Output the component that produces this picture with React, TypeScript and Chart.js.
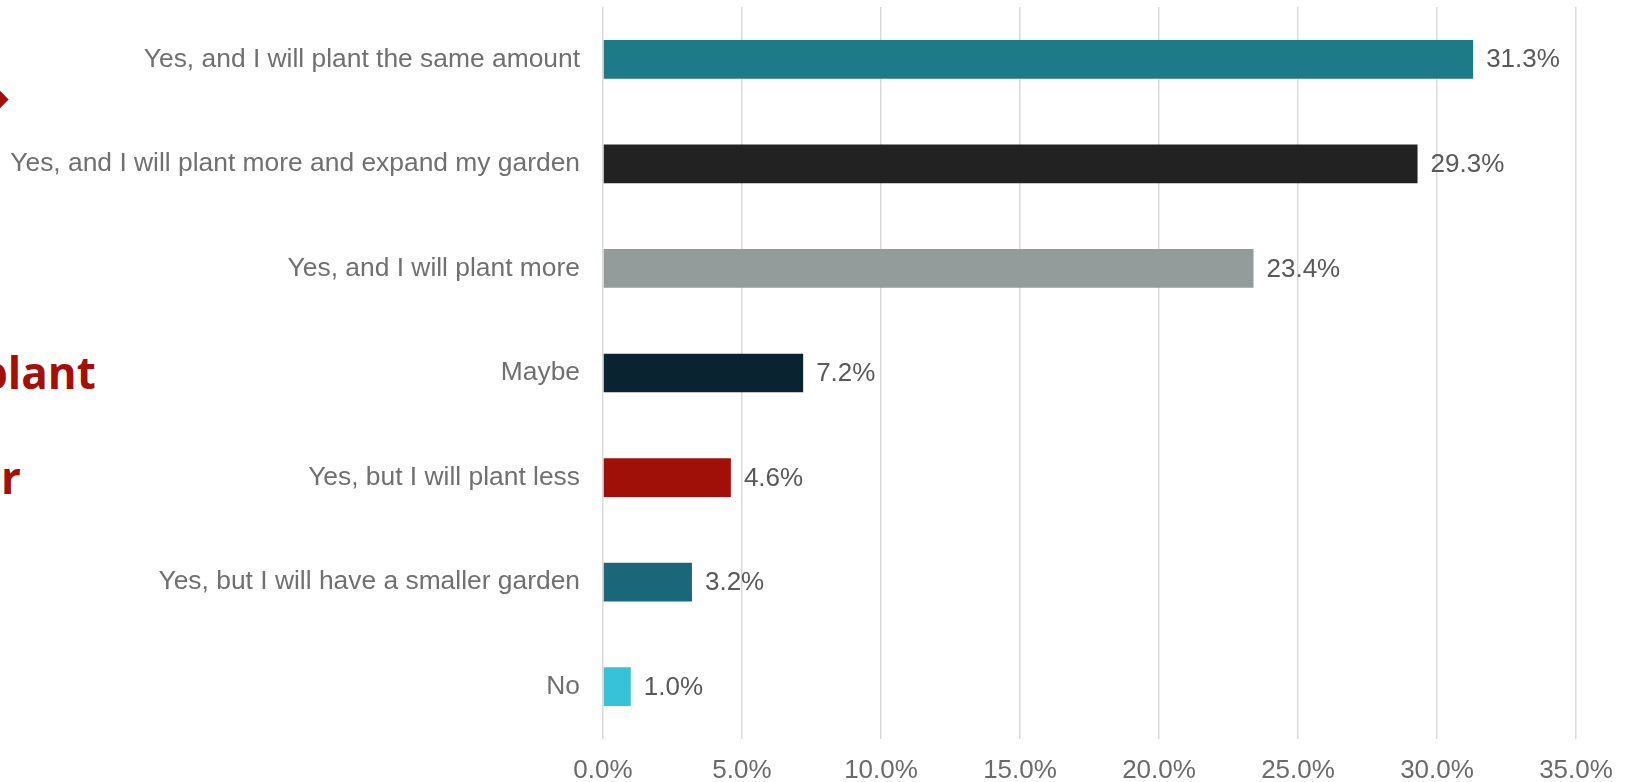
import React, { useEffect, useRef } from "react";
import { Chart, registerables } from "chart.js";

Chart.register(...registerables);

const categories = [
  "Yes, and I will plant the same amount",
  "Yes, and I will plant more and expand my garden",
  "Yes, and I will plant more",
  "Maybe",
  "Yes, but I will plant less",
  "Yes, but I will have a smaller garden",
  "No",
];
const values = [31.3, 29.3, 23.4, 7.2, 4.6, 3.2, 1.0];
const barColors = ["#1d7a87", "#222222", "#939b9b", "#092331", "#a11008", "#1b6679", "#38c2d8"];
const xTickMax = 35;
const xTickStep = 5;

const FONT = "'Liberation Sans', Arial, sans-serif";

const dataLabelPlugin = {
  id: "dataLabels",
  afterDatasetsDraw(chart: any) {
    const { ctx } = chart;
    const meta = chart.getDatasetMeta(0);
    ctx.save();
    ctx.font = `26px ${FONT}`;
    ctx.fillStyle = "#595959";
    ctx.textAlign = "left";
    ctx.textBaseline = "middle";
    meta.data.forEach((bar: any, i: number) => {
      ctx.fillText(values[i].toFixed(1) + "%", bar.x + 13, bar.y + 1);
    });
    ctx.restore();
  },
};

export default function App() {
  const ref = useRef<HTMLCanvasElement>(null);
  useEffect(() => {
    if (!ref.current) return;
    const chart = new Chart(ref.current, {
      type: "bar",
      data: {
        labels: categories,
        datasets: [
          {
            data: values,
            backgroundColor: barColors,
            barPercentage: 0.37,
            categoryPercentage: 1,
          },
        ],
      },
      options: {
        indexAxis: "y",
        responsive: false,
        animation: false,
        layout: { padding: { top: 7, right: 55, bottom: 0, left: 0 } },
        plugins: { legend: { display: false }, tooltip: { enabled: false } },
        scales: {
          x: {
            min: 0,
            max: xTickMax,
            ticks: {
              stepSize: xTickStep,
              padding: 16,
              color: "#6a6a6a",
              font: { family: FONT, size: 26 },
              callback: (v: any) => Number(v).toFixed(1) + "%",
            },
            grid: { color: "#d9d9d9", lineWidth: 1.5, drawTicks: false },
            border: { display: false },
            afterFit: (s: any) => {
              s.height = 43;
            },
          },
          y: {
            ticks: {
              padding: 23,
              color: "#707070",
              font: { family: FONT, size: 26.4 },
            },
            grid: { display: false, drawTicks: false },
            border: { display: false },
            afterFit: (s: any) => {
              s.width = 603;
              s.paddingTop = 0;
              s.paddingBottom = 0;
            },
          },
        },
      },
      plugins: [dataLabelPlugin],
    });
    return () => chart.destroy();
  }, []);

  const red = "#a31009";
  return (
    <div
      style={{
        position: "fixed",
        left: 0,
        top: 0,
        width: 1631,
        height: 782,
        overflow: "hidden",
        background: "#ffffff",
      }}
    >
      <div
        style={{
          position: "absolute",
          left: -20,
          top: 342,
          font: "bold 44px 'Open Sans', sans-serif",
          color: red,
          lineHeight: "60px",
          whiteSpace: "nowrap",
        }}
      >
        plant
      </div>
      <div
        style={{
          position: "absolute",
          left: -25,
          top: 447,
          font: "bold 44px 'Open Sans', sans-serif",
          color: red,
          lineHeight: "60px",
          whiteSpace: "nowrap",
        }}
      >
        er
      </div>
      <div
        style={{
          position: "absolute",
          left: -7,
          top: 93,
          width: 13,
          height: 13,
          background: red,
          transform: "rotate(45deg)",
        }}
      />
      <canvas ref={ref} width={1631} height={782} style={{ position: "absolute", left: 0, top: 0 }} />
    </div>
  );
}
